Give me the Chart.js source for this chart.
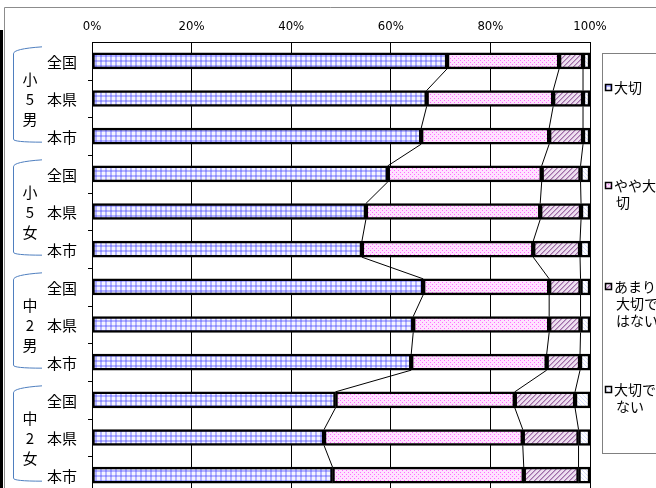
<!DOCTYPE html>
<html lang="ja">
<head>
<meta charset="UTF-8" />
<title>大切さ</title>
<script src="https://cdn.jsdelivr.net/npm/chart.js@4.4.0/dist/chart.umd.min.js"></script>
<style>
  html, body { margin: 0; padding: 0; overflow: hidden; background: #fff; }
</style>
</head>
<body>
<canvas id="chart" width="656" height="496"></canvas>
<script>
  // categories (rows, top to bottom) and the grouping on the left
  const categories = ['全国', '本県', '本市', '全国', '本県', '本市', '全国', '本県', '本市', '全国', '本県', '本市']
  const groups = [['小', '5', '男'], ['小', '5', '女'], ['中', '2', '男'], ['中', '2', '女']]
  const seriesNames = ['大切', 'やや大切', 'あまり大切ではない', '大切でない']
  const legendLines = [['大切'], ['やや大', '切'], ['あまり', '大切で', 'はない'], ['大切で', 'ない']]
  const xTicks = [0, 20, 40, 60, 80, 100]

  // percentages
  const taisetsu    = [71.3, 67.2, 66.1, 59.4, 55.0, 54.2, 66.5, 64.5, 64.1, 48.9, 46.6, 48.3]
  const yaya        = [22.5, 25.4, 25.7, 30.9, 35.0, 34.4, 25.3, 27.3, 27.2, 36.0, 39.9, 38.4]
  const amari       = [4.8, 6.0, 6.8, 7.8, 8.2, 9.4, 6.3, 6.3, 6.7, 12.1, 11.2, 11.0]
  const taisetsuNai = [1.4, 1.4, 1.4, 1.9, 1.8, 2.0, 1.9, 1.9, 2.0, 3.0, 2.3, 2.3]

  const JP = '"Noto Sans CJK JP", sans-serif'

  function makePattern(w, h, draw) {
    const c = document.createElement('canvas')
    c.width = w
    c.height = h
    const g = c.getContext('2d')
    draw(g)
    return g.createPattern(c, 'repeat')
  }

  const patGrid = makePattern(5, 5, (g) => {
    g.fillStyle = '#f4f4ff'; g.fillRect(0, 0, 5, 5)
    g.fillStyle = '#b4b4ff'; g.fillRect(0, 0, 5, 2); g.fillRect(0, 0, 2, 5)
    g.fillStyle = '#8a8aff'; g.fillRect(0, 0, 2, 2)
  })
  const patDots = makePattern(4, 4, (g) => {
    g.fillStyle = '#ffe2ff'; g.fillRect(0, 0, 4, 4)
    g.fillStyle = '#ff6cff'; g.fillRect(0, 0, 1, 1); g.fillRect(2, 2, 1, 1)
  })
  const patHatch = makePattern(5, 5, (g) => {
    g.fillStyle = '#eee0f0'; g.fillRect(0, 0, 5, 5)
    for (let i = 0; i < 5; i++) {
      g.fillStyle = '#a070a8'; g.fillRect(4 - i, i, 1, 1)
      g.fillStyle = '#c6a2cc'; g.fillRect((5 - i) % 5, i, 1, 1)
    }
  })
  const patLight = makePattern(4, 4, (g) => {
    g.fillStyle = '#ffffff'; g.fillRect(0, 0, 4, 4)
    g.fillStyle = '#d8deff'
    for (let i = 0; i < 4; i++) g.fillRect(i, i, 1, 1)
  })
  const fills = [patGrid, patDots, patHatch, patLight]

  const frame = {
    id: 'frame',
    beforeDraw(chart) {
      const c = chart.ctx
      c.save()
      c.strokeStyle = '#8c8c8c'
      c.lineWidth = 1
      c.beginPath()
      c.moveTo(4.5, 496); c.lineTo(4.5, 7.5); c.lineTo(656, 7.5)
      c.stroke()
      c.fillStyle = '#000'
      c.fillRect(0, 30, 3, 470)
      c.restore()
    },
    afterDatasetsDraw(chart) {
      const c = chart.ctx
      const area = chart.chartArea
      c.save()
      // series lines between neighbouring bars
      c.strokeStyle = '#000'
      c.lineWidth = 1
      for (let d = 0; d < 3; d++) {
        const bars = chart.getDatasetMeta(d).data
        c.beginPath()
        for (let i = 0; i < bars.length - 1; i++) {
          const a = bars[i], b = bars[i + 1]
          c.moveTo(a.x, a.y + a.height / 2)
          c.lineTo(b.x, b.y - b.height / 2)
        }
        c.stroke()
      }
      // category tick marks on the left axis
      const ys = chart.scales.y
      const band = (area.bottom - area.top) / categories.length
      c.beginPath()
      for (let k = 1; k < categories.length; k++) {
        const y = Math.round(area.top + k * band) + 0.5
        c.moveTo(area.left - 4, y); c.lineTo(area.left, y)
      }
      c.moveTo(area.left + 0.5, area.top); c.lineTo(area.left + 0.5, area.bottom)
      c.stroke()
      // row labels
      c.fillStyle = '#000'
      c.font = '15px ' + JP
      c.textAlign = 'center'
      c.textBaseline = 'middle'
      categories.forEach((lab, i) => {
        c.fillText(lab, 62, ys.getPixelForValue(i) + 1)
      })
      // group labels with brackets
      groups.forEach((chars, gi) => {
        const yMid = ys.getPixelForValue(gi * 3 + 1)
        chars.forEach((ch, j) => {
          c.fillText(ch, 30, yMid + (j - 1) * 20 + 1)
        })
        const top = ys.getPixelForValue(gi * 3) - 12
        const bot = ys.getPixelForValue(gi * 3 + 2) + 6
        c.strokeStyle = '#4f7fbf'
        c.beginPath()
        c.moveTo(42, top - 2)
        c.quadraticCurveTo(13, top, 13.5, top + 5)
        c.lineTo(13.5, bot - 3)
        c.quadraticCurveTo(13, bot, 42, bot)
        c.stroke()
      })
      // legend
      c.strokeStyle = '#808080'
      c.strokeRect(602.5, 53.5, 80, 400)
      const itemY = [88, 186, 287, 390]
      c.font = '14px ' + JP
      c.textAlign = 'left'
      seriesNames.forEach((name, s) => {
        const y0 = itemY[s]
        c.fillStyle = fills[s]
        c.fillRect(605, y0 - 4, 7, 7)
        c.strokeStyle = '#000'
        c.lineWidth = 1.5
        c.strokeRect(605.5, y0 - 3.5, 6, 6)
        c.fillStyle = '#000'
        legendLines[s].forEach((t, j) => {
          c.fillText(t, 614 + (j ? 2 : 0), y0 + j * 17)
        })
      })
      c.restore()
    }
  }

  const chart = new Chart(document.getElementById('chart'), {
    type: 'bar',
    data: {
      labels: categories,
      datasets: [taisetsu, yaya, amari, taisetsuNai].map((vals, s) => ({
        label: seriesNames[s],
        data: vals,
        backgroundColor: fills[s],
        borderColor: '#000',
        borderWidth: 2.5,
        borderSkipped: false,
        barThickness: 16
      }))
    },
    options: {
      indexAxis: 'y',
      responsive: false,
      animation: false,
      layout: { padding: { left: 92, right: 66, top: 0, bottom: 2 } },
      plugins: { legend: { display: false }, tooltip: { enabled: false } },
      scales: {
        x: {
          position: 'top',
          stacked: true,
          min: 0,
          max: 100,
          afterBuildTicks: (axis) => { axis.ticks = xTicks.map((v) => ({ value: v })) },
          afterFit: (axis) => { axis.height = 42 },
          grid: { color: '#000', drawTicks: false },
          border: { color: '#000', width: 1 },
          ticks: {
            color: '#000',
            padding: 8,
            font: { family: '"Liberation Sans Narrow", "DejaVu Sans Condensed", sans-serif', size: 13 },
            callback: (v) => v + '%'
          }
        },
        y: { stacked: true, display: false }
      }
    },
    plugins: [frame]
  })
</script>
</body>
</html>
